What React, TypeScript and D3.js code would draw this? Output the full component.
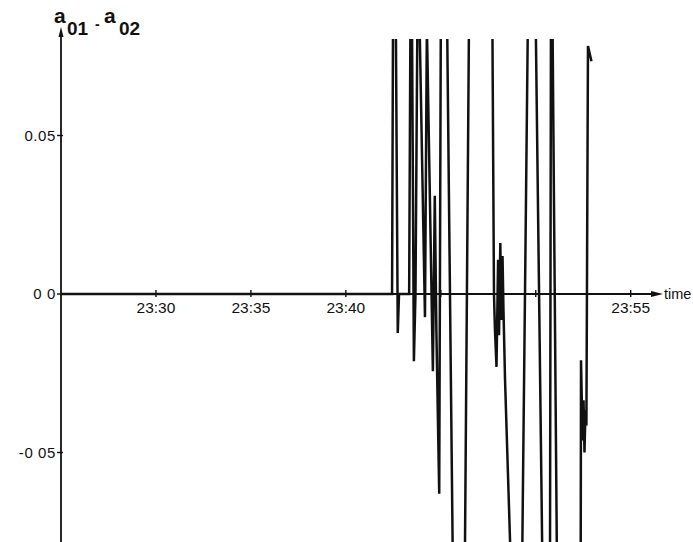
import React, { useRef, useEffect } from 'react';
import * as d3 from 'd3';

// recorder trace: minutes after 23:00 and a01 - a02 (values past +-0.08 run off the paper)
const traceMinutes = [
  25.0, 42.43, 42.48, 42.64, 42.74, 42.8, 43.33, 43.4, 43.48, 43.59, 43.67, 43.77, 43.88,
  44.17, 44.26, 44.59, 44.69, 44.77, 44.91, 45.0, 45.34, 45.63, 46.27, 46.49, 47.71, 47.8,
  47.85, 47.94, 48.01, 48.07, 48.14, 48.2, 48.25, 48.3, 48.38, 48.68, 49.29, 49.58, 50.0,
  50.35, 50.75, 50.8, 50.88, 51.12, 52.37, 52.38, 52.46, 52.51, 52.57, 52.62, 52.67, 52.75,
  52.93,
];
const traceValues = [
  0, 0, 0.085, 0.085, -0.0123, 0, 0, 0.085, 0.085, -0.0212, 0, 0.085, 0.085,
  -0.0073, 0.085, -0.0244, 0.031, -0.0114, -0.063, 0.085, 0.085, -0.085, -0.085, 0.085, 0.085, 0,
  -0.011, -0.023, 0.0108, -0.013, 0.0161, -0.0082, 0.012, -0.005, -0.0272, -0.085, -0.085, 0.085, 0.085,
  -0.085, -0.085, 0.085, 0.085, -0.085, -0.085, -0.0209, -0.0462, -0.0335, -0.05, -0.0367, -0.0415, 0.0782,
  0.0734,
];

const xTickMinutes = [30, 35, 40, 45, 50, 55];
const xTickLabels = ['23:30', '23:35', '23:40', '', '', '23:55'];
const yTickValues = [0.05, 0, -0.05];
const yTickLabels = ['0.05', '0 0', '-0 05'];

const toDate = (m: number) => new Date(2000, 0, 1, 23, 0, Math.round(m * 60));

const W = 693;
const H = 542;

const App = () => {
  const svgRef = useRef<SVGSVGElement | null>(null);

  useEffect(() => {
    if (!svgRef.current) return;
    const svg = d3.select(svgRef.current);
    svg.selectAll('*').remove();

    const x0 = 61;
    const x = d3.scaleTime()
      .domain([toDate(25), toDate(55)])
      .range([x0, 630.7]);
    const y = d3.scaleLinear()
      .domain([-0.05, 0.05])
      .range([452.5, 135.5]);
    const y0 = y(0);

    const font = '"Liberation Sans", Arial, sans-serif';

    svg.append('defs').append('clipPath')
      .attr('id', 'plot-clip')
      .append('rect')
      .attr('x', x0)
      .attr('y', 39)
      .attr('width', W - x0)
      .attr('height', H - 39);

    // trace
    const data = traceMinutes.map((m, i) => ({ t: toDate(m), v: traceValues[i] }));
    const line = d3.line<{ t: Date; v: number }>()
      .x(d => x(d.t))
      .y(d => y(d.v));

    svg.append('path')
      .datum(data)
      .attr('clip-path', 'url(#plot-clip)')
      .attr('fill', 'none')
      .attr('stroke', '#111')
      .attr('stroke-width', 2.5)
      .attr('stroke-linejoin', 'miter')
      .attr('d', line);

    // x axis with arrow
    const xEnd = 652;
    svg.append('line')
      .attr('x1', x0).attr('x2', xEnd)
      .attr('y1', y0).attr('y2', y0)
      .attr('stroke', '#111').attr('stroke-width', 1.8);
    svg.append('path')
      .attr('d', `M${xEnd - 1},${y0 - 3}L${663},${y0}L${xEnd - 1},${y0 + 3}Z`)
      .attr('fill', '#111');
    svg.append('text')
      .attr('x', 664).attr('y', y0 + 5)
      .attr('font-family', font).attr('font-size', 14.5)
      .attr('fill', '#111')
      .text('time');

    const xt = svg.append('g');
    xTickMinutes.forEach((m, i) => {
      const px = x(toDate(m));
      xt.append('line')
        .attr('x1', px).attr('x2', px)
        .attr('y1', y0 - 4).attr('y2', y0 + 3)
        .attr('stroke', '#111').attr('stroke-width', 1.4);
      if (xTickLabels[i]) {
        xt.append('text')
          .attr('x', px).attr('y', y0 + 19)
          .attr('text-anchor', 'middle')
          .attr('font-family', font).attr('font-size', 15.5)
          .attr('fill', '#111')
          .text(xTickLabels[i]);
      }
    });

    // y axis with arrow
    svg.append('line')
      .attr('x1', x0).attr('x2', x0)
      .attr('y1', H).attr('y2', 36)
      .attr('stroke', '#111').attr('stroke-width', 1.8);
    svg.append('path')
      .attr('d', `M${x0 - 2.5},${37}L${x0},${27}L${x0 + 2.5},${37}Z`)
      .attr('fill', '#111');

    const yt = svg.append('g');
    yTickValues.forEach((v, i) => {
      const py = y(v);
      yt.append('line')
        .attr('x1', x0 - 4).attr('x2', x0 + 2)
        .attr('y1', py).attr('y2', py)
        .attr('stroke', '#111').attr('stroke-width', 1.4);
      yt.append('text')
        .attr('x', x0 - 5).attr('y', py + 5)
        .attr('text-anchor', 'end')
        .attr('font-family', font).attr('font-size', 15)
        .attr('letter-spacing', 0.6)
        .attr('fill', '#111')
        .text(yTickLabels[i]);
    });

    // axis title a01 - a02
    const title = svg.append('g')
      .attr('font-family', font).attr('font-weight', 'bold').attr('fill', '#111');
    title.append('text').attr('x', 54).attr('y', 23).attr('font-size', 21).text('a');
    title.append('text').attr('x', 67).attr('y', 35).attr('font-size', 19).text('01');
    title.append('text').attr('x', 95).attr('y', 29).attr('font-size', 14).text('-');
    title.append('text').attr('x', 104).attr('y', 23).attr('font-size', 21).text('a');
    title.append('text').attr('x', 119).attr('y', 35).attr('font-size', 19).text('02');
  }, []);

  return (
    <svg
      ref={svgRef}
      width={W}
      height={H}
      style={{ position: 'absolute', left: 0, top: 0, background: '#fff' }}
    />
  );
};

export default App;
